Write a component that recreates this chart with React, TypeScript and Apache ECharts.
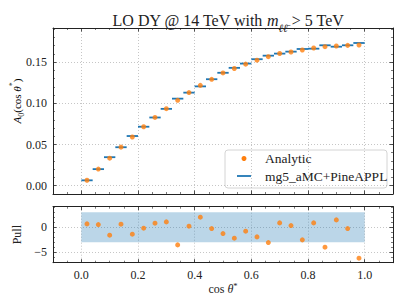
import React, { useEffect, useRef } from "react";
import * as echarts from "echarts";

const binCenters = [0.02, 0.06, 0.10, 0.14, 0.18, 0.22, 0.26, 0.30, 0.34, 0.38, 0.42, 0.46, 0.50, 0.54, 0.58, 0.62, 0.66, 0.70, 0.74, 0.78, 0.82, 0.86, 0.90, 0.94, 0.98];
const binHalfWidth = 0.02;
const mcValues = [0.0065, 0.0201, 0.0346, 0.0467, 0.0603, 0.0716, 0.0828, 0.0933, 0.1057, 0.1130, 0.1206, 0.1293, 0.1371, 0.1431, 0.1483, 0.1536, 0.1579, 0.1604, 0.1628, 0.1660, 0.1664, 0.1705, 0.1688, 0.1705, 0.1733];
const analyticValues = [0.0066, 0.0202, 0.0334, 0.0468, 0.0591, 0.0716, 0.0829, 0.0935, 0.1037, 0.1131, 0.1218, 0.1292, 0.1369, 0.1423, 0.1476, 0.1524, 0.1567, 0.1605, 0.1624, 0.1648, 0.1672, 0.1688, 0.1696, 0.1704, 0.1709];
const pullValues = [0.66, 0.53, -1.6, 0.6, -1.4, -0.2, 0.8, 1.06, -3.54, 0.2, 2.0, -0.27, -1.27, -2.2, -0.8, -1.94, -3.07, 0.86, 0.33, -2.53, 0.86, -4.0, 1.46, -0.27, -6.2];
const pullBand = [0, 1, -3, 3]; // xStart, xEnd, yLow, yHigh

const FONT = "Liberation Serif";
const BLUE = "#1f77b4";
const ORANGE = "#ff7f0e";
const TXT = "#222";

export default function App() {
  const ref = useRef<HTMLDivElement>(null);
  useEffect(() => {
    if (!ref.current) return;
    const chart = echarts.init(ref.current, undefined, { renderer: "svg" });

    const gridTop = { left: 53, top: 28, width: 340, height: 166 };
    const gridBot = { left: 53, top: 206.7, width: 340, height: 56 };

    const baseAxis = (extra: any) => ({
      axisLine: { show: true, onZero: false, lineStyle: { color: TXT, width: 1 } },
      axisTick: { show: true, inside: true, length: 3.5, lineStyle: { color: TXT, width: 0.8 } },
      minorTick: { show: true, splitNumber: 4, length: 2, lineStyle: { color: TXT, width: 0.6 } },
      splitLine: { show: false },
      axisLabel: { show: false },
      ...extra,
    });
    const dotted = { show: true, lineStyle: { color: "#b8b8b8", type: [1, 2], width: 0.8 } };
    const labelStyle = { fontFamily: FONT, fontSize: 12, color: TXT };
    const richBase = (size: number, lh: number) => ({
      n: { fontFamily: FONT, fontSize: size, fontWeight: "normal", color: TXT, lineHeight: lh, verticalAlign: "middle" },
      i: { fontFamily: FONT, fontSize: size, fontWeight: "normal", fontStyle: "italic", color: TXT, lineHeight: lh, verticalAlign: "middle" },
    });

    const xCommon = { type: "value", min: -0.1, max: 1.1, splitNumber: 6 };
    const yMinor = { show: true, splitNumber: 5, length: 2, lineStyle: { color: TXT, width: 0.6 } };

    const option: any = {
      animation: false,
      backgroundColor: "#fff",
      title: {
        text: "{n|LO DY @ 14 TeV with }{i|m}{s|ℓℓ̄}{n| > 5 TeV}",
        left: 223,
        textAlign: "center",
        top: 3,
        textStyle: {
          fontWeight: "normal",
          rich: {
            ...richBase(16, 20),
            s: { fontFamily: FONT, fontSize: 11, fontWeight: "normal", fontStyle: "italic", color: TXT, lineHeight: 25, verticalAlign: "bottom" },
          },
        },
      },
      grid: [gridTop, gridBot],
      xAxis: [
        baseAxis({ ...xCommon, gridIndex: 0, position: "bottom", splitLine: dotted }),
        baseAxis({ ...xCommon, gridIndex: 0, position: "top" }),
        baseAxis({
          ...xCommon, gridIndex: 1, position: "bottom", splitLine: dotted,
          axisLabel: { show: true, ...labelStyle, margin: 6, showMinLabel: false, showMaxLabel: false, formatter: (v: number) => v.toFixed(1) },
          name: "{n|cos }{i|θ}{p|*}",
          nameLocation: "middle",
          nameGap: 16,
          nameTextStyle: {
            rich: {
              ...richBase(12, 15),
              p: { fontFamily: FONT, fontSize: 8.5, color: TXT, lineHeight: 15, verticalAlign: "top" },
            },
          },
        }),
        baseAxis({ ...xCommon, gridIndex: 1, position: "top" }),
      ],
      yAxis: [
        baseAxis({
          type: "value", min: -0.0101, max: 0.1915, splitNumber: 4, gridIndex: 0, position: "left", splitLine: dotted,
          minorTick: yMinor,
          axisLabel: { show: true, ...labelStyle, margin: 6, showMinLabel: false, showMaxLabel: false, formatter: (v: number) => v.toFixed(2) },
        }),
        baseAxis({
          type: "value", min: -0.0101, max: 0.1915, splitNumber: 4, gridIndex: 0, position: "right",
          minorTick: yMinor,
        }),
        baseAxis({
          type: "value", min: -7.1, max: 4.1, splitNumber: 2, gridIndex: 1, position: "left", splitLine: dotted,
          minorTick: yMinor,
          axisLabel: { show: true, ...labelStyle, margin: 6, showMinLabel: false, showMaxLabel: false, formatter: (v: number) => String(v).replace("-", "−") },
          name: "Pull",
          nameLocation: "middle",
          nameGap: 25,
          nameRotate: 90,
          nameTextStyle: { fontFamily: FONT, fontSize: 12, color: TXT },
        }),
        baseAxis({
          type: "value", min: -7.1, max: 4.1, splitNumber: 2, gridIndex: 1, position: "right",
          minorTick: yMinor,
        }),
      ],
      series: [
        {
          type: "custom",
          xAxisIndex: 0,
          yAxisIndex: 0,
          data: binCenters.map((x, i) => [x, mcValues[i]]),
          renderItem: (params: any, api: any) => {
            const x = api.value(0);
            const y = api.value(1);
            const p1 = api.coord([x - binHalfWidth, y]);
            const p2 = api.coord([x + binHalfWidth, y]);
            return {
              type: "line",
              shape: { x1: p1[0], y1: p1[1], x2: p2[0], y2: p2[1] },
              style: { stroke: BLUE, lineWidth: 1.8 },
            };
          },
          z: 2,
        },
        {
          type: "scatter",
          xAxisIndex: 0,
          yAxisIndex: 0,
          data: binCenters.map((x, i) => [x, analyticValues[i]]),
          symbol: "circle",
          symbolSize: 5,
          itemStyle: { color: ORANGE },
          z: 3,
        },
        {
          type: "custom",
          xAxisIndex: 2,
          yAxisIndex: 2,
          data: [pullBand],
          renderItem: (params: any, api: any) => {
            const p1 = api.coord([api.value(0), api.value(3)]);
            const p2 = api.coord([api.value(1), api.value(2)]);
            return {
              type: "rect",
              shape: { x: p1[0], y: p1[1], width: p2[0] - p1[0], height: p2[1] - p1[1] },
              style: { fill: "rgba(31,119,180,0.3)" },
            };
          },
          z: 1,
        },
        {
          type: "scatter",
          xAxisIndex: 2,
          yAxisIndex: 2,
          data: binCenters.map((x, i) => [x, pullValues[i]]),
          symbol: "circle",
          symbolSize: 5,
          itemStyle: { color: ORANGE },
          z: 3,
        },
      ],
      graphic: [
        {
          type: "text",
          x: 17,
          y: 101,
          rotation: Math.PI / 2,
          z: 100,
          style: {
            text: "{i|A}{s|0}{n|(cos }{i|θ}{p|*}{n|)}",
            align: "center",
            verticalAlign: "middle",
            rich: {
              ...richBase(11, 14),
              s: { fontFamily: FONT, fontSize: 8, fill: TXT, lineHeight: 17, verticalAlign: "bottom" },
              p: { fontFamily: FONT, fontSize: 8, fill: TXT, lineHeight: 14, verticalAlign: "top" },
            },
          },
        },
        {
          type: "group",
          z: 100,
          children: [
            { type: "rect", shape: { x: 225, y: 150, width: 162, height: 38, r: 3 }, style: { fill: "rgba(255,255,255,0.85)", stroke: "#d4d4d4", lineWidth: 1 } },
            { type: "circle", shape: { cx: 244, cy: 158.5, r: 2.5 }, style: { fill: ORANGE } },
            { type: "text", x: 265, y: 158.5, style: { text: "Analytic", fontFamily: FONT, fontSize: 13.5, fill: TXT, verticalAlign: "middle" } },
            { type: "line", shape: { x1: 237, y1: 176, x2: 251, y2: 176 }, style: { stroke: BLUE, lineWidth: 1.8 } },
            { type: "text", x: 265, y: 176, style: { text: "mg5_aMC+PineAPPL", fontFamily: FONT, fontSize: 13.5, fill: TXT, verticalAlign: "middle" } },
          ],
        },
      ],
    };
    chart.setOption(option);
    return () => chart.dispose();
  }, []);
  return <div ref={ref} style={{ position: "fixed", left: 0, top: 0, width: 407, height: 305 }} />;
}
